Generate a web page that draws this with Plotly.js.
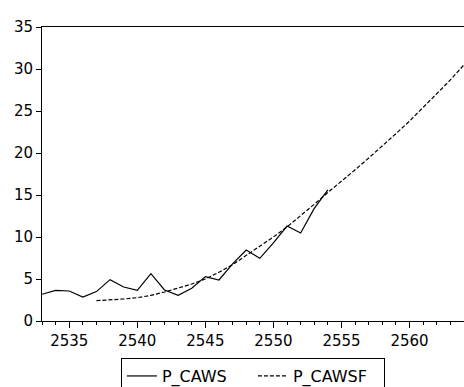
<!DOCTYPE html>
<html>
<head>
<meta charset="utf-8">
<script src="https://cdn.plot.ly/plotly-3.0.1.min.js"></script>
<style>html,body{margin:0;padding:0;background:#fff;}#chart{width:464px;height:387px;}</style>
</head>
<body>
<div id="chart"></div>
<script>
var yearsActual = [2533,2534,2535,2536,2537,2538,2539,2540,2541,2542,2543,2544,2545,2546,2547,2548,2549,2550,2551,2552,2553,2554];
var pCaws = [3.18,3.65,3.57,2.86,3.5,4.92,4.05,3.65,5.63,3.69,3.06,3.89,5.28,4.88,6.8,8.45,7.46,9.3,11.3,10.48,13.4,15.6];
var yearsFit = [2537,2538,2539,2540,2541,2542,2543,2544,2545,2546,2547,2548,2549,2550,2551,2552,2553,2554,2555,2556,2557,2558,2559,2560,2561,2562,2563,2564,2565];
var pCawsf = [2.42,2.48,2.62,2.78,3.05,3.45,3.9,4.4,5.0,5.8,6.7,7.8,8.8,10.0,11.2,12.5,13.9,15.3,16.6,18.0,19.4,20.8,22.3,23.8,25.4,27.0,28.7,30.5,32.2];

var font = {family: 'DejaVu Sans, Arial, sans-serif', size: 15, color: '#000'};
var legendFont = {family: 'DejaVu Sans, Arial, sans-serif', size: 16, color: '#000'};
var data = [
  {x: yearsActual, y: pCaws, name: 'P_CAWS', type: 'scatter', mode: 'lines', line: {color: '#000', width: 1.2}},
  {x: yearsFit, y: pCawsf, name: 'P_CAWSF', type: 'scatter', mode: 'lines', line: {color: '#000', width: 1.2, dash: '4px,2px'}}
];
var layout = {
  width: 464, height: 387,
  margin: {l: 42, r: 0, t: 27, b: 66, autoexpand: false},
  paper_bgcolor: '#fff', plot_bgcolor: '#fff',
  font: font,
  showlegend: true,
  legend: {orientation: 'h', x: 0.187, xanchor: 'left', y: -0.126, yanchor: 'top', bordercolor: '#000', borderwidth: 1, font: legendFont, traceorder: 'normal', entrywidth: 86},
  xaxis: {range: [2533, 2564], tickvals: [2535,2540,2545,2550,2555,2560], ticks: 'outside', ticklen: 6, tickcolor: '#000', showline: true, linecolor: '#000', linewidth: 1, mirror: true, showgrid: false, zeroline: false, tickfont: font,
    minor: {dtick: 1, tick0: 2533, ticks: 'outside', ticklen: 3, tickcolor: '#000', showgrid: false}},
  yaxis: {range: [0, 35], dtick: 5, ticks: 'outside', ticklen: 5, tickcolor: '#000', showline: true, linecolor: '#000', linewidth: 1, showgrid: false, zeroline: false, tickfont: font}
};
Plotly.newPlot('chart', data, layout, {displayModeBar: false, staticPlot: true});
</script>
</body>
</html>
